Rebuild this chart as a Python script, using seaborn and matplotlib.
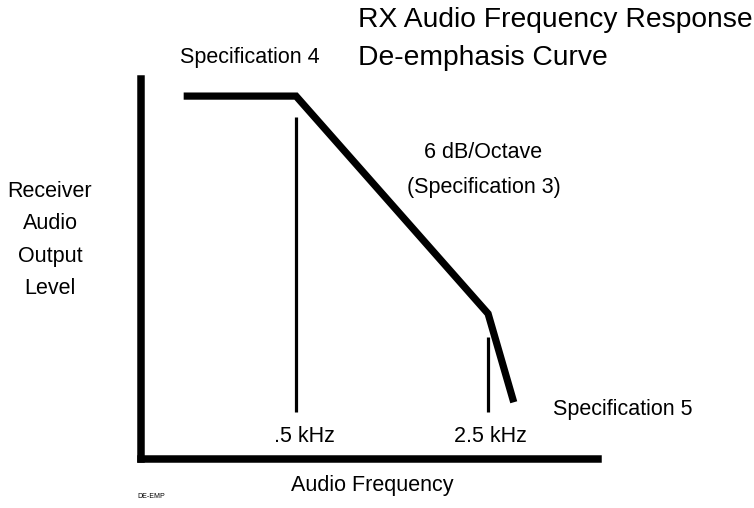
import matplotlib
matplotlib.use("Agg")
import matplotlib.pyplot as plt
import seaborn as sns
import pandas as pd

# De-emphasis response: flat, then 6 dB/octave roll-off, then a steeper drop
freq_khz = [0.195, 0.5, 2.5, 3.1]
level_db = [0.0, 0.0, -14.0, -19.7]

# Reference markers at the two corner frequencies
marker_freq_khz = [0.5, 2.5]
marker_top_db = [-1.35, -15.5]
marker_bottom_db = [-20.3, -20.3]
marker_labels = [".5 kHz", "2.5 kHz"]

title_lines = ["RX Audio Frequency Response", "De-emphasis Curve"]
y_label_lines = ["Receiver", "Audio", "Output", "Level"]
x_label = "Audio Frequency"

sns.set_theme(style="white")
plt.rcParams["font.family"] = ["Liberation Sans", "DejaVu Sans"]
plt.rcParams["text.color"] = "black"

W, H = 754, 508
fig = plt.figure(figsize=(W / 100, H / 100), dpi=100)


def fx(px):
    return px / W


def fy(py):
    return 1 - py / H


ax_left, ax_right, ax_top, ax_bottom = 140.5, 598.0, 79.0, 459.0
ax = fig.add_axes([fx(ax_left), fy(ax_bottom), fx(ax_right - ax_left), (ax_bottom - ax_top) / H])

curve = pd.DataFrame({"freq": freq_khz, "level": level_db})
sns.lineplot(data=curve, x="freq", y="level", ax=ax, color="black", linewidth=5.2,
             sort=False, estimator=None, solid_joinstyle="miter", solid_capstyle="butt")

for f, top, bot in zip(marker_freq_khz, marker_top_db, marker_bottom_db):
    seg = pd.DataFrame({"freq": [f, f], "level": [top, bot]})
    sns.lineplot(data=seg, x="freq", y="level", ax=ax, color="black", linewidth=2.3,
                 sort=False, estimator=None, solid_capstyle="butt")

ax.set_xscale("log")
ax.set_xlim(0.1358, 6.28)
ax.set_ylim(-23.35, 1.1)
ax.set_xticks([])
ax.set_yticks([])
ax.minorticks_off()
ax.set_xlabel("")
ax.set_ylabel("")
ax.set_facecolor("white")
for side in ("top", "right"):
    ax.spines[side].set_visible(False)
for side in ("left", "bottom"):
    ax.spines[side].set_color("black")
    ax.spines[side].set_linewidth(5.4)
    ax.spines[side].set_capstyle("projecting")

fs = 15.5
txt = dict(color="black")
fig.text(fx(358), fy(20), title_lines[0], fontsize=20.3, ha="left", va="center", **txt)
fig.text(fx(358), fy(58), title_lines[1], fontsize=20.3, ha="left", va="center", **txt)
fig.text(fx(180), fy(57), "Specification 4", fontsize=fs, ha="left", va="center", **txt)
fig.text(fx(483), fy(153), "6 dB/Octave", fontsize=fs, ha="center", va="center", **txt)
fig.text(fx(484), fy(188), "(Specification 3)", fontsize=fs, ha="center", va="center", **txt)
fig.text(fx(553), fy(409), "Specification 5", fontsize=fs, ha="left", va="center", **txt)
fig.text(fx(50), fy(240), "\n".join(y_label_lines), fontsize=fs, ha="center", va="center",
         multialignment="center", linespacing=1.72, **txt)
for cx, lab in zip([304, 490], marker_labels):
    fig.text(fx(cx), fy(437), lab, fontsize=fs, ha="center", va="center", **txt)
fig.text(fx(372), fy(486), x_label, fontsize=fs, ha="center", va="center", **txt)
fig.text(fx(137), fy(496), "DE-EMP", fontsize=5, ha="left", va="center", **txt)

fig.savefig("out.png", dpi=100, facecolor="white")
